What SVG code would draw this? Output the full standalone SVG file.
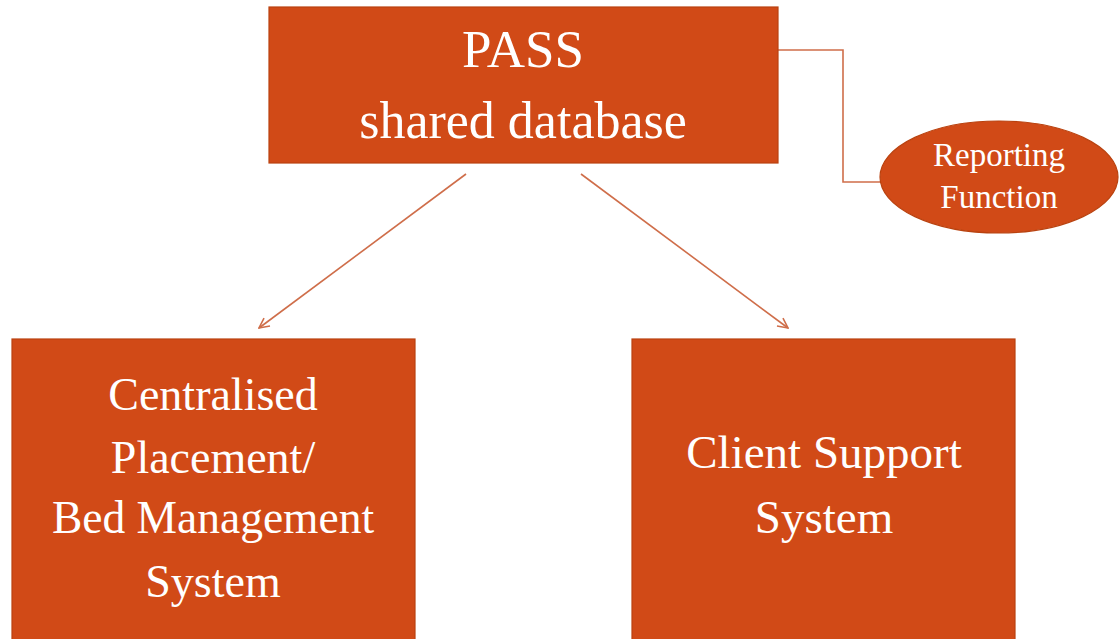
<svg xmlns="http://www.w3.org/2000/svg" width="1120" height="639" viewBox="0 0 1120 639">
<style>
.box{fill:#D14A17;stroke:#B9420F;stroke-width:1.2}
.t{font-family:"Liberation Serif",serif;fill:#FFFFFF;text-anchor:middle}
.c{fill:none;stroke:#CF6E4A;stroke-width:1.6}
</style>
<defs>
<marker id="arr" viewBox="0 0 12 12" refX="11" refY="6" markerWidth="12" markerHeight="12" markerUnits="userSpaceOnUse" orient="auto">
<path d="M1,1 L11,6 L1,11" fill="none" stroke="#CF6E4A" stroke-width="1.6"/>
</marker>
</defs>
<rect width="1120" height="639" fill="#FFFFFF"/>
<g id="connectors">
<polyline class="c" points="778,50 843,50 843,182 881,182"/>
<line class="c" x1="466" y1="174" x2="259" y2="328" marker-end="url(#arr)"/>
<line class="c" x1="581" y1="174" x2="788" y2="328" marker-end="url(#arr)"/>
</g>
<g id="pass">
<rect class="box" x="269" y="7" width="509" height="156"/>
<text class="t" x="523" y="67" font-size="53">PASS</text>
<text class="t" x="523" y="138" font-size="52">shared database</text>
</g>
<g id="reporting">
<ellipse class="box" cx="999" cy="177" rx="119" ry="56"/>
<text class="t" x="999" y="166" font-size="33">Reporting</text>
<text class="t" x="999" y="208" font-size="33">Function</text>
</g>
<g id="centralised">
<rect class="box" x="12" y="339" width="403" height="310"/>
<text class="t" x="213" y="410" font-size="46">Centralised</text>
<text class="t" x="213" y="473" font-size="46">Placement/</text>
<text class="t" x="213" y="533" font-size="45.5">Bed Management</text>
<text class="t" x="213" y="597" font-size="46">System</text>
</g>
<g id="client">
<rect class="box" x="632" y="339" width="383" height="310"/>
<text class="t" x="824" y="468" font-size="47">Client Support</text>
<text class="t" x="824" y="533" font-size="47">System</text>
</g>
</svg>
